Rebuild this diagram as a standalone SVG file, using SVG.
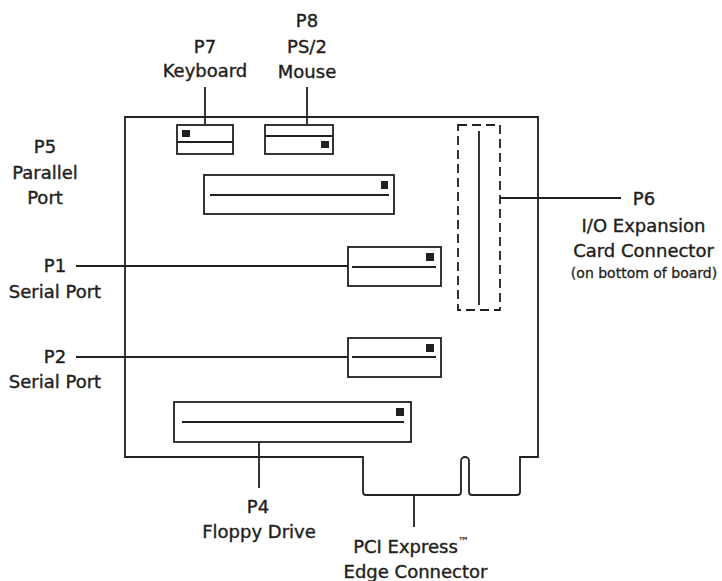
<svg xmlns="http://www.w3.org/2000/svg" width="722" height="581" viewBox="0 0 722 581">
<style>
.s{fill:none;stroke:#231f20;stroke-width:1.8}
.d{fill:none;stroke:#231f20;stroke-width:1.8;stroke-dasharray:9,5}
.k{fill:#231f20}
text{font-family:"DejaVu Sans",sans-serif;font-size:18px;fill:#231f20;stroke:#231f20;stroke-width:0.4;text-anchor:middle}
.sm{font-size:14px;stroke-width:0.3}
</style>
<rect width="722" height="581" fill="#fff"/>
<g id="board">
<path class="s" d="M125,117 H538 V457 H520 V492 Q520,495 517,495 H472 Q469,495 469,492 V461 A4,4 0 0 0 461,461 V492 Q461,495 458,495 H366 Q363,495 363,492 V457 H125 Z"/>
</g>
<g id="connectors">
<line class="s" x1="205" y1="87" x2="205" y2="125"/>
<line class="s" x1="307" y1="87" x2="307" y2="125"/>
<line class="s" x1="76" y1="266" x2="348" y2="266"/>
<line class="s" x1="76" y1="357" x2="348" y2="357"/>
<line class="s" x1="259" y1="442" x2="259" y2="488"/>
<line class="s" x1="414" y1="495" x2="414" y2="527"/>
<line class="s" x1="500" y1="198" x2="621" y2="198"/>
</g>
<g id="P7">
<rect class="s" x="177" y="125" width="56" height="29"/>
<line class="s" x1="177" y1="142" x2="233" y2="142"/>
<rect class="k" x="182" y="130" width="8" height="7"/>
<text x="205" y="53">P7</text>
<text x="205" y="77">Keyboard</text>
</g>
<g id="P8">
<rect class="s" x="265" y="125" width="68" height="29"/>
<line class="s" x1="265" y1="136" x2="333" y2="136"/>
<rect class="k" x="321" y="141" width="8" height="7"/>
<text x="307" y="27">P8</text>
<text x="307" y="53">PS/2</text>
<text x="307" y="78">Mouse</text>
</g>
<g id="P5">
<rect class="s" x="204" y="175" width="190" height="39"/>
<line class="s" x1="210" y1="195" x2="389" y2="195"/>
<rect class="k" x="381" y="181" width="7" height="8"/>
<text x="45" y="153">P5</text>
<text x="45" y="179">Parallel</text>
<text x="45" y="204">Port</text>
</g>
<g id="P1">
<rect class="s" x="348" y="247" width="93" height="39"/>
<line class="s" x1="352" y1="267" x2="436" y2="267"/>
<rect class="k" x="426" y="253" width="8" height="8"/>
<text x="55" y="272">P1</text>
<text x="55" y="298">Serial Port</text>
</g>
<g id="P2">
<rect class="s" x="348" y="338" width="93" height="39"/>
<line class="s" x1="352" y1="357" x2="436" y2="357"/>
<rect class="k" x="426" y="344" width="8" height="8"/>
<text x="55" y="363">P2</text>
<text x="55" y="388">Serial Port</text>
</g>
<g id="P4">
<rect class="s" x="174" y="402" width="237" height="40"/>
<line class="s" x1="182" y1="422" x2="404" y2="422"/>
<rect class="k" x="396" y="408" width="8" height="8"/>
<text x="258" y="513">P4</text>
<text x="259" y="538">Floppy Drive</text>
</g>
<g id="P6">
<rect class="d" x="458" y="125" width="42" height="185"/>
<line class="s" x1="479" y1="131" x2="479" y2="305"/>
<text x="644" y="205">P6</text>
<text x="643.5" y="232">I/O Expansion</text>
<text x="643.5" y="257">Card Connector</text>
<text class="sm" x="644" y="278">(on bottom of board)</text>
</g>
<g id="PCI">
<text x="411" y="553">PCI Express<tspan font-size="11" stroke-width="0.2" dy="-8">™</tspan></text>
<text x="415.5" y="578">Edge Connector</text>
</g>
</svg>
